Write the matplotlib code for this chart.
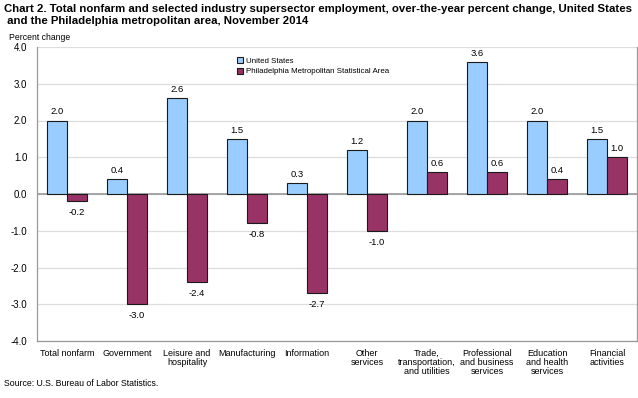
import matplotlib
matplotlib.use("Agg")
import matplotlib.pyplot as plt
import numpy as np
from matplotlib.patches import Patch

categories = ["Total nonfarm", "Government", "Leisure and\nhospitality", "Manufacturing",
              "Information", "Other\nservices", "Trade,\ntransportation,\nand utilities",
              "Professional\nand business\nservices", "Education\nand health\nservices",
              "Financial\nactivities"]
us_values = [2.0, 0.4, 2.6, 1.5, 0.3, 1.2, 2.0, 3.6, 2.0, 1.5]
philly_values = [-0.2, -3.0, -2.4, -0.8, -2.7, -1.0, 0.6, 0.6, 0.4, 1.0]
series_names = ["United States", "Philadelphia Metropolitan Statistical Area"]
yticks = [-4.0, -3.0, -2.0, -1.0, 0.0, 1.0, 2.0, 3.0, 4.0]

plt.rcParams['font.family'] = ['Liberation Sans', 'DejaVu Sans']

W, H = 638, 398
fig = plt.figure(figsize=(W/100, H/100), dpi=100)
ax = fig.add_axes([37/W, 1-341/H, 600/W, 294/H])

c_us = "#99CCFF"
c_ph = "#993366"
x = np.arange(len(categories))
bw = 1/3
ax.bar(x - bw/2, us_values, bw, color=c_us, edgecolor="#1a1a1a", linewidth=0.8, zorder=3)
ax.bar(x + bw/2, philly_values, bw, color=c_ph, edgecolor="#1a1a1a", linewidth=0.8, zorder=3)

for xi, v in zip(x - bw/2, us_values):
    ax.annotate(f"{v:.1f}", (xi, v), xytext=(0, 3 if v >= 0 else -4), textcoords="offset points",
                ha="center", va="bottom" if v >= 0 else "top", fontsize=6.8)
for xi, v in zip(x + bw/2, philly_values):
    ax.annotate(f"{v:.1f}", (xi, v), xytext=(0, 3 if v >= 0 else -5), textcoords="offset points",
                ha="center", va="bottom" if v >= 0 else "top", fontsize=6.8)

ax.set_xlim(-0.5, len(categories) - 0.5)
ax.set_ylim(-4, 4)
ax.set_yticks(yticks)
ax.set_yticklabels([f"{t:.1f}" for t in yticks], fontsize=7)
ax.set_xticks(x)
ax.set_xticklabels(categories, fontsize=6.5, linespacing=1.0, va="top")
ax.tick_params(axis="both", length=0)
ax.tick_params(axis="x", pad=5.5)
ax.tick_params(axis="y", pad=7)
ax.grid(axis="y", color="#dddddd", linewidth=0.9, zorder=0)
ax.axhline(0, color="#999999", linewidth=1.2, zorder=2)
for s in ["left", "right", "bottom"]:
    ax.spines[s].set_color("#999999")
    ax.spines[s].set_linewidth(0.9)
ax.spines["top"].set_visible(False)

handles = [Patch(facecolor=c_us, edgecolor="#1a1a1a", linewidth=0.8),
           Patch(facecolor=c_ph, edgecolor="#1a1a1a", linewidth=0.8)]
ax.legend(handles, series_names, loc="upper left", bbox_to_anchor=(200/600, 1 - 10/294),
          frameon=False, fontsize=5.7, handlelength=0.8, handleheight=0.8,
          handletextpad=0.3, labelspacing=0.35, borderaxespad=0, borderpad=0)

fig.text(4/W, 1 - 4/H, "Chart 2. Total nonfarm and selected industry supersector employment, over-the-year percent change, United States\n and the Philadelphia metropolitan area, November 2014",
         fontsize=8.2, fontweight="bold", va="top", ha="left", linespacing=1.3)
fig.text(9/W, 1 - 40/H, "Percent change", fontsize=6.2, va="baseline", ha="left")
fig.text(4/W, 1 - 386/H, "Source: U.S. Bureau of Labor Statistics.", fontsize=6.3, va="baseline", ha="left")

fig.savefig("out.png", dpi=100)
